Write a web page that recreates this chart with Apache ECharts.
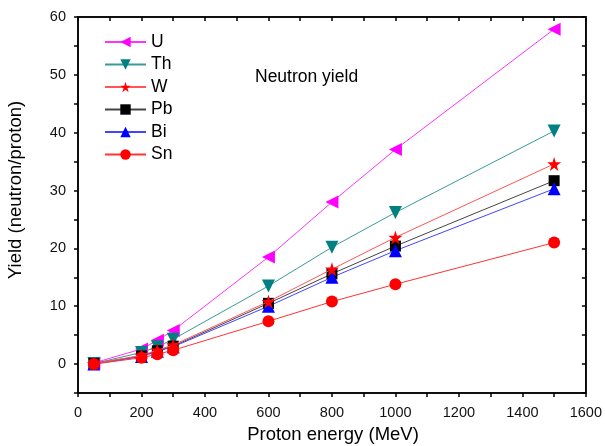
<!DOCTYPE html>
<html>
<head>
<meta charset="utf-8">
<script src="https://cdn.jsdelivr.net/npm/echarts@6/dist/echarts.min.js"></script>
<style>
html,body{margin:0;padding:0;background:#fff;}
#chart{width:605px;height:446px;}
</style>
</head>
<body>
<div id="chart"></div>
<script>
var energies = [50, 200, 250, 300, 600, 800, 1000, 1500];
var seriesNames = ['U', 'Th', 'W', 'Pb', 'Bi', 'Sn'];
var yieldU  = [0.2, 2.6, 4.1, 5.8, 18.5, 28.0, 37.1, 57.9];
var yieldTh = [0.1, 2.0, 3.0, 4.3, 13.5, 20.2, 26.2, 40.3];
var yieldW  = [0.1, 1.5, 2.4, 3.3, 10.8, 16.4, 21.9, 34.6];
var yieldPb = [0.1, 1.4, 2.3, 3.1, 10.5, 15.6, 20.4, 31.7];
var yieldBi = [0.0, 1.3, 2.2, 3.0, 10.0, 15.0, 19.6, 30.3];
var yieldSn = [0.0, 1.1, 1.7, 2.4, 7.4, 10.8, 13.8, 21.0];
var xTickLabels = [0, 200, 400, 600, 800, 1000, 1200, 1400, 1600];
var yTickLabels = [0, 10, 20, 30, 40, 50, 60];
var xAxisTitle = 'Proton energy (MeV)';
var yAxisTitle = 'Yield (neutron/proton)';
var chartLabel = 'Neutron yield';

var starPath = 'path://M50,0 L61,35 L98,35 L68,57 L79,91 L50,70 L21,91 L32,57 L2,35 L39,35 Z';

function pairs(vals) { return energies.map(function (e, i) { return [e, vals[i]]; }); }

var font = 'Liberation Sans, Arial, sans-serif';
var cfg = [
  { name: 'U',  data: yieldU,  color: '#ff00ff', line: '#ff33ff', symbol: 'triangle', rot: 90, size: 13, z: 3 },
  { name: 'Th', data: yieldTh, color: '#008080', line: '#3a9a9a', symbol: 'triangle', rot: 180, size: 13, z: 3 },
  { name: 'W',  data: yieldW,  color: '#ff0000', line: '#ff5555', symbol: starPath, rot: 0, size: 14, z: 6 },
  { name: 'Pb', data: yieldPb, color: '#000000', line: '#444444', symbol: 'rect', rot: 0, size: 11, z: 4 },
  { name: 'Bi', data: yieldBi, color: '#0000ff', line: '#4444ff', symbol: 'triangle', rot: 0, size: 13, z: 4 },
  { name: 'Sn', data: yieldSn, color: '#ff0000', line: '#ff3333', symbol: 'circle', rot: 0, size: 12, z: 5 }
];

var series = cfg.map(function (c) {
  return {
    name: c.name, type: 'line', data: pairs(c.data),
    symbol: c.symbol, symbolSize: c.size, symbolRotate: c.rot,
    itemStyle: { color: c.color },
    lineStyle: { color: c.line, width: 1 },
    z: c.z
  };
});

var L = { show: true, onZero: false, lineStyle: { color: '#000', width: 1.5 } };
var T = { show: true, length: 4, lineStyle: { color: '#000', width: 1.5 } };
var Tin = { show: true, inside: true, length: 4, lineStyle: { color: '#000', width: 1.5 } };
function plain(v) { return String(v); }

var chart = echarts.init(document.getElementById('chart'));
chart.setOption({
  backgroundColor: '#fff',
  animation: false,
  title: {
    text: chartLabel, left: 250, top: 63,
    textStyle: { fontFamily: font, fontSize: 17.5, fontWeight: 'normal', color: '#000' }
  },
  legend: {
    data: seriesNames, orient: 'vertical', left: 104, top: 33, padding: 0,
    itemWidth: 41, itemHeight: 13, itemGap: 4.5,
    textStyle: { fontFamily: font, fontSize: 17.5, color: '#000' }
  },
  grid: { left: 78, right: 17, top: 17, bottom: 53, show: true, borderColor: '#000', borderWidth: 1.5, backgroundColor: 'transparent' },
  graphic: [
    { type: 'text', x: 333, y: 435,
      style: { text: xAxisTitle, fontFamily: font, fontSize: 18.5, fill: '#000', align: 'center', verticalAlign: 'middle' } },
    { type: 'text', x: 16, y: 190, rotation: Math.PI / 2,
      style: { text: yAxisTitle, fontFamily: font, fontSize: 18.5, fill: '#000', align: 'center', verticalAlign: 'middle' } }
  ],
  xAxis: [
    {
      type: 'value', position: 'bottom', min: 0, max: 1600, interval: 100,
      axisLine: L, axisTick: T,
      axisLabel: { customValues: xTickLabels, formatter: plain, fontFamily: font, fontSize: 14.5, color: '#111', margin: 12 },
      splitLine: { show: false }
    },
    {
      type: 'value', position: 'top', min: 0, max: 1600, interval: 100,
      axisLine: L, axisTick: Tin,
      axisLabel: { show: false },
      splitLine: { show: false }
    }
  ],
  yAxis: [
    {
      type: 'value', position: 'left', min: -5, max: 60, interval: 5,
      axisLine: L, axisTick: T,
      axisLabel: { customValues: yTickLabels, formatter: plain, fontFamily: font, fontSize: 14.5, color: '#111', margin: 12 },
      splitLine: { show: false }
    },
    {
      type: 'value', position: 'right', min: -5, max: 60, interval: 5,
      axisLine: L, axisTick: Tin,
      axisLabel: { show: false },
      splitLine: { show: false }
    }
  ],
  series: series
});
</script>
</body>
</html>
